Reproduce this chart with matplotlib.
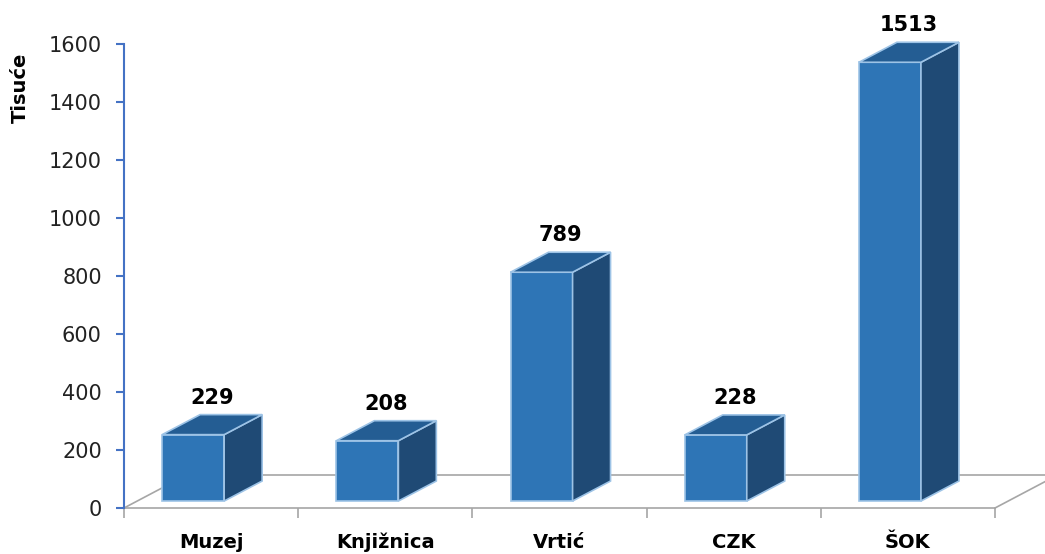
import numpy as np
import matplotlib.pyplot as plt

# data
categories = ['Muzej', 'Knjižnica', 'Vrtić', 'CZK', 'ŠOK']
values = [229, 208, 789, 228, 1513]
y_ticks = [0, 200, 400, 600, 800, 1000, 1200, 1400, 1600]

# pseudo-3D geometry (x in category slots, y in data units)
face_left = 0.219   # front face left edge from slot start
face_w = 0.356      # front face width
dep_x = 0.218       # depth shift to the right
dep_y = 69          # depth shift upwards
base = 24           # front bottom sits a bit above the floor edge
floor_dx = 0.36
floor_dy = 114

front_col = '#2E75B6'
top_col = '#245D93'
side_col = '#1F4A75'
edge_col = '#9DC3E6'

fig = plt.figure(figsize=(10.45, 5.54), dpi=100)
ax = fig.add_axes([124 / 1045, 46 / 554, 871 / 1045, 464 / 554])
ax.set_xlim(0, 5)
ax.set_ylim(0, 1600)

# floor outline
n = len(categories)
fl = dict(color='#A6A6A6', lw=1.2, zorder=1, clip_on=False)
ax.plot([0, floor_dx], [0, floor_dy], **fl)
ax.plot([floor_dx, n + floor_dx], [floor_dy, floor_dy], **fl)
ax.plot([n, n + floor_dx], [0, floor_dy], **fl)

for i, v in enumerate(values):
    x0 = i + face_left
    x1 = x0 + face_w
    y0 = base
    y1 = base + v
    # front face
    ax.fill([x0, x1, x1, x0], [y0, y0, y1, y1], color=front_col,
            ec=edge_col, lw=1.2, zorder=3, clip_on=False)
    # side face
    ax.fill([x1, x1 + dep_x, x1 + dep_x, x1],
            [y0, y0 + dep_y, y1 + dep_y, y1], color=side_col,
            ec=edge_col, lw=1.2, zorder=3, clip_on=False)
    # top face
    ax.fill([x0, x1, x1 + dep_x, x0 + dep_x],
            [y1, y1, y1 + dep_y, y1 + dep_y], color=top_col,
            ec=edge_col, lw=1.2, zorder=3, clip_on=False)
    ax.text(x0 + (face_w + dep_x) / 2, y1 + dep_y + 24, str(v),
            ha='center', va='bottom', fontsize=15, fontweight='bold',
            color='#000000', zorder=4)

# axes styling
for s in ['top', 'right']:
    ax.spines[s].set_visible(False)
ax.spines['left'].set_color('#4472C4')
ax.spines['left'].set_linewidth(1.5)
ax.spines['bottom'].set_color('#A6A6A6')
ax.spines['bottom'].set_linewidth(1.2)
ax.spines['bottom'].set_zorder(1)

ax.set_yticks(y_ticks)
ax.set_yticklabels([str(t) for t in y_ticks], fontsize=15, color='#222222')
ax.tick_params(axis='y', color='#4472C4', length=6, width=1.5, pad=10)

ax.set_xticks(np.arange(n + 1), minor=True)
ax.set_xticks(np.arange(n) + 0.5)
ax.set_xticklabels(categories, fontsize=14, fontweight='bold')
ax.tick_params(axis='x', which='major', length=0, pad=18)
ax.tick_params(axis='x', which='minor', color='#A6A6A6', length=7, width=1.2)

fig.text(20 / 1045, 1 - 88 / 554, 'Tisuće', rotation=90, ha='center',
         va='center', fontsize=14, fontweight='bold')

fig.savefig('out.png', dpi=100)
